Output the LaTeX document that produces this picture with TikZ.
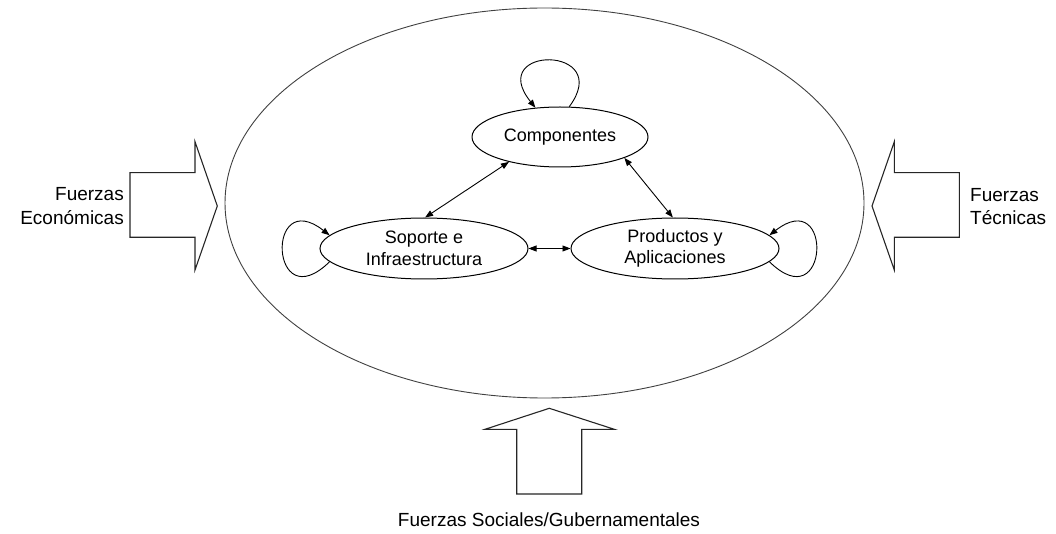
\documentclass[tikz,border=0pt]{standalone}
\usepackage{fontspec}
\setmainfont{Liberation Sans}
\usetikzlibrary{shapes.geometric,arrows.meta}
\begin{document}
\begin{tikzpicture}[x=1pt,y=-1pt,
  outer/.style={draw=black!75,line width=0.9pt},
  force/.style={draw=black!85,line width=1.1pt,line join=miter,fill=white},
  entity/.style={ellipse,draw,line width=1pt,inner sep=0pt,align=center,
    font=\fontsize{18}{21.6}\selectfont},
  forcelabel/.style={inner sep=0pt,font=\fontsize{19}{23.3}\selectfont},
  link/.style={line width=0.9pt,{Triangle[length=8pt,width=6pt]}-{Triangle[length=8pt,width=6pt]}},
  selfloop/.style={line width=0.9pt,-{Triangle[length=8pt,width=6pt]}}]
\useasboundingbox (0,0) rectangle (1056,534);

% enclosing system
\draw[outer] (544.5,203) ellipse [x radius=319.5, y radius=195];

% external forces
\draw[force] (130,172.7) -- (195,172.7) -- (195,141.7) -- (217.3,206)
  -- (195,270) -- (195,237.3) -- (130,237.3) -- cycle;
\draw[force] (959.3,172.7) -- (894.3,172.7) -- (894.3,141.7) -- (872,206)
  -- (894.3,270) -- (894.3,237.3) -- (959.3,237.3) -- cycle;
\draw[force] (516.7,494) -- (516.7,429.3) -- (485,429.3) -- (549.3,408.3)
  -- (614.3,429.3) -- (581.7,429.3) -- (581.7,494) -- cycle;

\node[forcelabel,align=right,anchor=east] (econ) at (124,206) {Fuerzas\\Económicas};
\node[forcelabel,align=left,anchor=west] (tec) at (970,206.5) {Fuerzas\\Técnicas};
\node[forcelabel,anchor=base] (soc) at (549,526) {Fuerzas Sociales/Gubernamentales};

% components of the system
\node[entity,minimum width=176,minimum height=60] (comp) at (560,137) {Componentes};
\node[entity,minimum width=208,minimum height=61] (sop) at (424,248.5) {Soporte e\\Infraestructura};
\node[entity,minimum width=208,minimum height=61] (prod) at (675,248.5) {Productos y\\Aplicaciones};

% relations
\draw[link] (comp.206) -- (sop.88);
\draw[link] (comp.-18) -- (prod.94);
\draw[link] (sop.east) -- (prod.west);

% self-reinforcing loops
\draw[selfloop] (comp.73) .. controls (615,45) and (485,45) .. (comp.130);
\draw[selfloop] (sop.188) .. controls (270,320) and (265,185) .. (sop.172);
\draw[selfloop] (prod.-8) .. controls (829,320) and (834,185) .. (prod.8);
\end{tikzpicture}
\end{document}
